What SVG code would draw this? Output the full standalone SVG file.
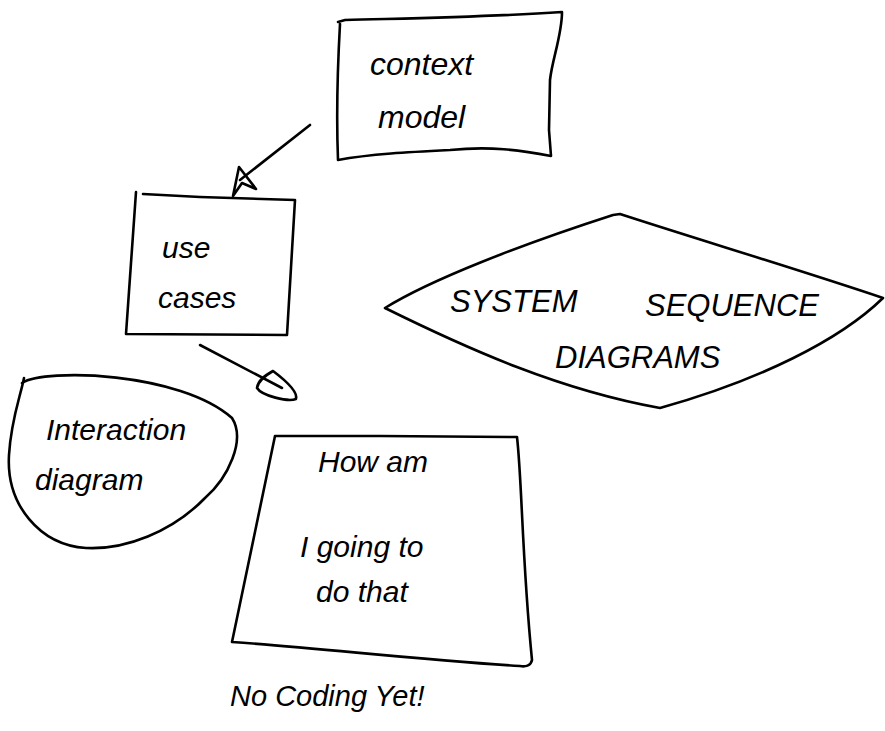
<svg xmlns="http://www.w3.org/2000/svg" width="885" height="731" viewBox="0 0 885 731">
<style>
.s{fill:none;stroke:#000;stroke-width:2.6;stroke-linecap:round;stroke-linejoin:round}
.t{font-family:"Liberation Sans","DejaVu Sans",sans-serif;fill:#000;font-style:italic}
</style>
<rect width="885" height="731" fill="#fff"/>
<g id="context-model">
<path class="s" d="M338,22 L345,20 C420,18 490,17 562,12 C562,35 552,60 550,80 L549,130 L551,156 C520,150 490,146 450,150 C410,152 370,154 338,160 C336,110 338,60 340,24"/>
<text class="t" x="370" y="75" font-size="32">context</text>
<text class="t" x="378" y="128" font-size="32">model</text>
</g>
<g id="use-cases">
<path class="s" d="M143,194 L200,197 L295,200 L287,335 L126,334 L136,192"/>
<text class="t" x="162" y="258" font-size="30">use</text>
<text class="t" x="158" y="308" font-size="30">cases</text>
</g>
<g id="system-sequence-diagrams">
<path class="s" d="M385,308 C430,280 520,245 613,215 L620,214 C700,240 800,270 883,298 C840,340 760,380 660,408 C560,390 470,350 385,308 Z"/>
<text class="t" x="450" y="312" font-size="31">SYSTEM</text>
<text class="t" x="645" y="316" font-size="31">SEQUENCE</text>
<text class="t" x="555" y="368" font-size="31">DIAGRAMS</text>
</g>
<g id="interaction-diagram">
<path class="s" d="M22,383 C45,368 180,372 232,418 C246,440 228,478 205,498 C172,532 125,550 86,548 C40,545 6,505 9,455 C11,420 20,398 24,378"/>
<text class="t" x="46" y="440" font-size="30">Interaction</text>
<text class="t" x="35" y="490" font-size="30">diagram</text>
</g>
<g id="how-box">
<path class="s" d="M275,436 L380,436 L517,437 C522,480 522,560 532,660 C531,666 525,667 520,666 C420,660 320,648 232,642 L275,436"/>
<text class="t" x="318" y="472" font-size="30">How am</text>
<text class="t" x="300" y="557" font-size="30">I going to</text>
<text class="t" x="316" y="602" font-size="30">do that</text>
</g>
<g id="note">
<text class="t" x="230" y="706" font-size="29">No Coding Yet!</text>
</g>
<g id="connectors">
<path class="s" d="M310,125 L240,180"/>
<path class="s" d="M233,196 L239,167 L256,189 L242,183 Z"/>
<path class="s" d="M200,345 L282,388"/>
<path class="s" d="M273,371 C285,380 298,392 296,399 C288,402 262,396 257,388 C258,380 266,375 273,371 Z"/>
</g>
</svg>
